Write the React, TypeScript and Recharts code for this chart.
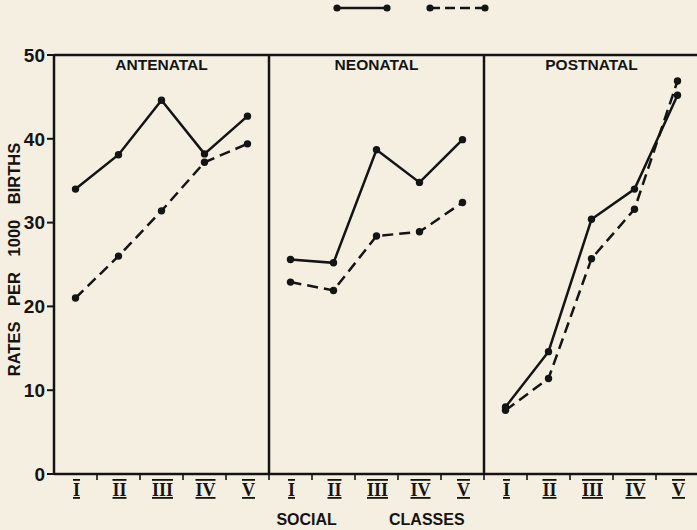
import React from "react";
import {
  Label,
  Legend,
  Line,
  LineChart,
  ReferenceArea,
  ReferenceLine,
  XAxis,
  YAxis,
} from "recharts";

const classes = ["I", "II", "III", "IV", "V"];
const panels = ["ANTENATAL", "NEONATAL", "POSTNATAL"];
const yTicks = [0, 10, 20, 30, 40, 50];

const antenatalSolid = [34, 38.1, 44.6, 38.2, 42.7];
const antenatalDashed = [21, 26, 31.4, 37.2, 39.4];
const neonatalSolid = [25.6, 25.2, 38.7, 34.8, 39.9];
const neonatalDashed = [22.9, 21.9, 28.4, 28.9, 32.4];
const postnatalSolid = [8, 14.6, 30.4, 34, 45.2];
const postnatalDashed = [7.6, 11.4, 25.7, 31.6, 46.9];

const seriesByPanel = [
  [antenatalSolid, antenatalDashed],
  [neonatalSolid, neonatalDashed],
  [postnatalSolid, postnatalDashed],
];

// one row per class per panel; each panel has its own pair of keys so lines don't join across panels
const data = panels.flatMap((_, p) =>
  classes.map((cls, i) => {
    const row: any = { x: p * 5 + i, cls };
    seriesByPanel.forEach((pair, q) => {
      row[`s${q}`] = q === p ? pair[0][i] : null;
      row[`d${q}`] = q === p ? pair[1][i] : null;
    });
    return row;
  })
);

const W = 705;
const H = 530;
const Y_W = 54;
const M_RIGHT = 6;
const HALF = (W - Y_W - M_RIGHT) / data.length / 2;
const INK = "#141414";
const PAPER = "#f4efe1";
const DASH = "11 6";

const ClassTick = (props: any) => {
  const { x, y, payload } = props;
  return (
    <g>
      <line x1={x + HALF} x2={x + HALF} y1={y} y2={y + 6} stroke={INK} strokeWidth={1.6} />
      <text
        x={x + 1}
        y={y + 22}
        textAnchor="middle"
        fill={INK}
        style={{
          fontFamily: "'Liberation Serif', serif",
          fontWeight: 700,
          fontSize: 18,
          textDecoration: "underline overline",
        }}
      >
        {classes[payload.value % 5]}
      </text>
    </g>
  );
};

const KeyContent = () => (
  <div style={{ width: W, height: 55, position: "relative" }}>
    <svg width={W} height={20} style={{ position: "absolute", left: 0, top: 0 }}>
      <line x1={337} x2={387} y1={8} y2={8} stroke={INK} strokeWidth={2.4} />
      <circle cx={337} cy={8} r={3.6} fill={INK} />
      <circle cx={387} cy={8} r={3.6} fill={INK} />
      <line x1={430} x2={485} y1={8} y2={8} stroke={INK} strokeWidth={2.4} strokeDasharray="10 5" />
      <circle cx={430} cy={8} r={3.6} fill={INK} />
      <circle cx={485} cy={8} r={3.6} fill={INK} />
    </svg>
  </div>
);

export default function App() {
  return (
    <div
      style={{
        position: "fixed",
        left: 0,
        top: 0,
        width: 697,
        height: 530,
        overflow: "hidden",
        background: PAPER,
      }}
    >
      <LineChart width={W} height={H} data={data} margin={{ top: 0, right: M_RIGHT, bottom: 0, left: 0 }}>
        <Legend
          verticalAlign="top"
          content={<KeyContent />}
          wrapperStyle={{ left: 0, top: 0, width: W, height: 55 }}
        />
        <XAxis
          dataKey="x"
          type="number"
          domain={[-0.5, 14.5]}
          ticks={data.map((d) => d.x)}
          interval={0}
          height={56}
          tickLine={false}
          tickSize={0}
          tickMargin={0}
          tick={<ClassTick />}
          axisLine={{ stroke: INK, strokeWidth: 2.5 }}
        >
          <Label
            content={(p: any) => {
              const vb = p.viewBox;
              return (
                <text
                  x={vb.x + vb.width / 2 - 6}
                  y={vb.y + vb.height - 5}
                  textAnchor="middle"
                  fill={INK}
                  style={{
                    fontFamily: "'Liberation Sans', sans-serif",
                    fontWeight: 700,
                    fontSize: 16,
                    wordSpacing: 48,
                  }}
                >
                  SOCIAL CLASSES
                </text>
              );
            }}
          />
        </XAxis>
        <YAxis
          domain={[0, 50]}
          ticks={yTicks}
          width={Y_W}
          tickSize={7}
          tickMargin={2}
          tickLine={{ stroke: INK, strokeWidth: 2 }}
          axisLine={{ stroke: INK, strokeWidth: 2.5 }}
          tick={{
            fill: INK,
            fontSize: 19,
            fontWeight: 700,
            fontFamily: "'Liberation Sans', sans-serif",
          }}
        >
          <Label
            content={(p: any) => {
              const vb = p.viewBox;
              const cx = vb.x + 14;
              const cy = vb.y + vb.height / 2 - 5;
              return (
                <text
                  x={cx}
                  y={cy}
                  textAnchor="middle"
                  dominantBaseline="central"
                  transform={`rotate(-90 ${cx} ${cy})`}
                  fill={INK}
                  style={{
                    fontFamily: "'Liberation Sans', sans-serif",
                    fontWeight: 700,
                    fontSize: 16.5,
                    wordSpacing: 11,
                  }}
                >
                  RATES PER 1000 BIRTHS
                </text>
              );
            }}
          />
        </YAxis>
        <ReferenceLine y={50} stroke={INK} strokeWidth={2.5} />
        <ReferenceLine x={4.5} stroke={INK} strokeWidth={2.5} />
        <ReferenceLine x={9.5} stroke={INK} strokeWidth={2.5} />
        <ReferenceLine x={14.5} stroke={INK} strokeWidth={2.5} />
        {panels.map((name, p) => (
          <ReferenceArea
            key={name}
            x1={p * 5 - 0.5}
            x2={p * 5 + 4.5}
            y1={0}
            y2={50}
            fill="none"
            stroke="none"
          >
            <Label
              value={name}
              position="insideTop"
              offset={4}
              style={{
                fill: INK,
                fontWeight: 700,
                fontSize: 15.5,
                fontFamily: "'Liberation Sans', sans-serif",
              }}
            />
          </ReferenceArea>
        ))}
        {panels.map((name, p) => [
          <Line
            key={`s${p}`}
            dataKey={`s${p}`}
            stroke={INK}
            strokeWidth={2.5}
            dot={{ r: 3.7, fill: INK, stroke: INK, strokeWidth: 0 }}
            activeDot={false}
            isAnimationActive={false}
          />,
          <Line
            key={`d${p}`}
            dataKey={`d${p}`}
            stroke={INK}
            strokeWidth={2.5}
            strokeDasharray={DASH}
            dot={{ r: 3.7, fill: INK, stroke: INK, strokeWidth: 0, strokeDasharray: "" }}
            activeDot={false}
            isAnimationActive={false}
          />,
        ])}
      </LineChart>
    </div>
  );
}
